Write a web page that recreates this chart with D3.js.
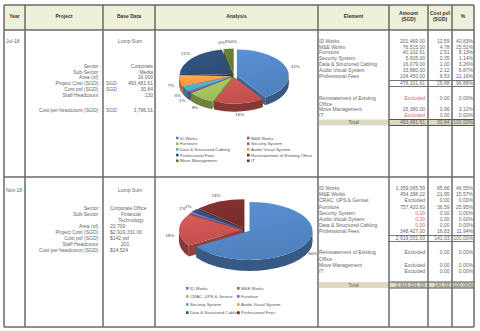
<!DOCTYPE html>
<html>
<head>
<meta charset="utf-8">
<script src="https://cdn.jsdelivr.net/npm/d3@7"></script>
<style>
  html, body { margin: 0; padding: 0; background: #fff; }
  svg { display: block; font-family: "Liberation Sans", Arial, sans-serif; }
</style>
</head>
<body>
<svg id="sheet" width="480" height="331"></svg>
<script>
// ---- column headings ----
const headerTitles = ["Year", "Project", "Base Data", "Analysis", "Element", "Amount\n(SGD)", "Cost psf\n(SGD)", "%"];

// ---- Jul-18 project ----
const julYear = "Jul-18";
const julBasis = "Lump Sum";
const julFieldLabels = ["Sector :", "Sub-Sector :", "Area (sf) :", "Project Cost (SGD) :", "Cost psf (SGD) :", "Staff Headcount :", "Cost per headcount (SGD) :"];
const julFieldUnits = ["", "", "", "SGD", "SGD", "", "SGD"];
const julFieldValues = ["Corporate", "Media", "16,000", "493,481.61", "30.84", "130", "3,796.01"];
const julElements = ["ID Works", "M&E Works", "Furniture", "Security System", "Data & Structured Cabling", "Audio Visual System", "Professional Fees"];
const julAmounts = ["201,469.00", "76,515.00", "40,102.61", "5,605.00", "16,079.00", "33,880.00", "104,450.00"];
const julPsf = ["12.59", "4.78", "2.51", "0.35", "1.00", "2.12", "6.53"];
const julPct = [40.83, 15.51, 8.13, 1.14, 3.26, 6.87, 21.16];
const julSubtotal = ["478,101.61", "29.88", "96.88%"];
const julExtraElements = ["Reinstatement of Existing Office", "Move Management", "IT"];
const julExtraAmounts = ["Excluded", "15,380.00", "Excluded"];
const julExtraPsf = ["0.00", "0.96", "0.00"];
const julExtraPct = [0, 3.12, 0];
const julTotal = ["493,481.61", "30.84", "100.00%"];
const julPieNames = julElements.concat(julExtraElements);
const julPieValues = julPct.concat(julExtraPct);

// ---- Nov-18 project ----
const novYear = "Nov-18";
const novBasis = "Lump Sum";
const novFieldLabels = ["Sector :", "Sub-Sector :", "", "Area (sf) :", "Project Cost (SGD) :", "Cost psf (SGD) :", "Staff Headcount :", "Cost per headcount (SGD) :"];
const novFieldUnits = ["", "", "", "", "", "", "", ""];
const novFieldValues = ["Corporate Office", "Financial", "Technology", "20,700", "$2,919,331.00", "$142 psf", "201", "$14,524"];
const novElements = ["ID Works", "M&E Works", "CRAC, UPS & Genset", "Furniture", "Security System", "Audio Visual System", "Data & Structured Cabling", "Professional Fees"];
const novAmounts = ["1,359,065.59", "454,398.22", "Excluded", "757,420.60", "0.00", "0.00", "0.00", "348,427.00"];
const novPsf = ["65.66", "21.95", "0.00", "36.59", "0.00", "0.00", "0.00", "16.83"];
const novPct = [46.55, 15.57, 0, 25.95, 0, 0, 0, 11.94];
const novSubtotal = ["2,919,331.00", "141.03", "100.00%"];
const novExtraElements = ["Reinstatement of Existing Office", "Move Management", "IT"];
const novExtraAmounts = ["Excluded", "Excluded", "Excluded"];
const novExtraPsf = ["0.00", "0.00", "0.00"];
const novExtraPct = [0, 0, 0];
const novTotal = ["2,919,331.00", "141.03", "100.00%"];
const novPieNames = novElements;
const novPieShare = [66, 18, null, 1, null, null, 2, 13];   // null = no slice

// Office-style series palette
const palette = ["#4F81BD", "#C0504D", "#9BBB59", "#8064A2", "#4BACC6", "#F79646", "#2C4D75", "#772C2A", "#5F7530", "#4D3B62"];

// ---- sheet grid ----
const colX = [4, 25, 103, 155, 318, 389, 428, 452, 474];
const rowY = [5, 30, 177, 327];
const ink = "#666";
const fs = 5;

const svg = d3.select("#sheet");
const defs = svg.append("defs");

svg.append("rect").attr("x", colX[0]).attr("y", rowY[0])
  .attr("width", colX[8] - colX[0]).attr("height", rowY[1] - rowY[0]).attr("fill", "#eef0da");

function multiText(g, x, y, str, anchor, opts = {}) {
  const lines = String(str).split("\n");
  const lh = opts.lh || 6.2;
  const y0 = y - (lines.length - 1) * lh / 2;
  const t = g.append("text").attr("x", x).attr("text-anchor", anchor)
    .attr("font-size", opts.size || fs).attr("fill", opts.fill || ink)
    .attr("font-weight", opts.weight || null);
  lines.forEach((l, i) => t.append("tspan").attr("x", x).attr("y", y0 + i * lh).attr("dy", "0.35em").text(l));
  return t;
}

// headings
const hg = svg.append("g");
headerTitles.forEach((h, i) => {
  multiText(hg, (colX[i] + colX[i + 1]) / 2, 16, h, "middle", { weight: "bold", fill: "#333", lh: 6.5 });
});

// wrap long element names onto two lines
function wrap(name, max) {
  if (name.length <= max) return [name];
  const cut = name.lastIndexOf(" ", max);
  return [name.slice(0, cut), name.slice(cut + 1)];
}

// ---- 3D pie ----
function pie3D(g, names, values, P) {
  const { cx, cy, rx, ry, depth, gap, lpad } = P;
  const arcs = d3.pie().sort(null).value(d => d || 0)(values).map((a, i) => {
    const mid = (a.startAngle + a.endAngle) / 2;
    return Object.assign(a, {
      i, name: names[i], color: palette[i], mid,
      ox: gap * Math.sin(mid), oy: -gap * Math.cos(mid) * ry / rx
    });
  });
  const pt = a => [rx * Math.sin(a), -ry * Math.cos(a)];
  const live = arcs.filter(a => a.endAngle - a.startAngle > 1e-6);
  const order = live.slice().sort((a, b) => -Math.cos(a.mid) + Math.cos(b.mid));

  const wall = ang => {
    const [x, y] = pt(ang);
    return `M0,0L${x},${y}L${x},${y + depth}L0,${depth}Z`;
  };
  const rim = (s, e) => {
    const [x0, y0] = pt(s), [x1, y1] = pt(e);
    const lg = e - s > Math.PI ? 1 : 0;
    return `M${x0},${y0}A${rx},${ry} 0 ${lg} 1 ${x1},${y1}L${x1},${y1 + depth}A${rx},${ry} 0 ${lg} 0 ${x0},${y0 + depth}Z`;
  };
  const face = (s, e) => {
    const [x0, y0] = pt(s), [x1, y1] = pt(e);
    const lg = e - s > Math.PI ? 1 : 0;
    return `M0,0L${x0},${y0}A${rx},${ry} 0 ${lg} 1 ${x1},${y1}Z`;
  };

  order.forEach(a => {
    const sg = g.append("g").attr("transform", `translate(${cx + a.ox},${cy + a.oy})`);
    const side = d3.color(a.color).darker(1.0).formatHex();
    sg.append("path").attr("d", wall(a.startAngle)).attr("fill", d3.color(a.color).darker(0.7).formatHex());
    sg.append("path").attr("d", wall(a.endAngle)).attr("fill", d3.color(a.color).darker(0.7).formatHex());
    const s = Math.max(a.startAngle, Math.PI / 2), e = Math.min(a.endAngle, 3 * Math.PI / 2);
    if (e > s) sg.append("path").attr("d", rim(s, e)).attr("fill", side);
  });
  order.forEach(a => {
    const gid = `g${P.id}_${a.i}`;
    const lg = defs.append("linearGradient").attr("id", gid).attr("x1", 0).attr("y1", 0).attr("x2", 0.3).attr("y2", 1);
    lg.append("stop").attr("offset", "0%").attr("stop-color", d3.color(a.color).brighter(0.35).formatHex());
    lg.append("stop").attr("offset", "100%").attr("stop-color", a.color);
    g.append("path").attr("transform", `translate(${cx + a.ox},${cy + a.oy})`)
      .attr("d", face(a.startAngle, a.endAngle)).attr("fill", `url(#${gid})`);
  });

  // data labels, nudged apart where they would collide
  const lsize = 4.4;
  const labs = arcs.filter(a => a.data !== null).map(a => {
    const c = Math.cos(a.mid);
    const text = Math.round(a.data) + "%";
    return {
      text,
      x: cx + a.ox + (rx + lpad) * Math.sin(a.mid),
      y: cy + a.oy - (ry + lpad * 0.75) * c + (c < 0 ? depth * 0.5 : 0),
      w: text.length * lsize * 0.56 + 0.8, h: lsize + 0.6
    };
  });
  for (let it = 0; it < 40; it++) {
    for (let i = 0; i < labs.length; i++) for (let j = i + 1; j < labs.length; j++) {
      const A = labs[i], B = labs[j];
      const dx = B.x - A.x, dy = B.y - A.y;
      const ox = (A.w + B.w) / 2 - Math.abs(dx), oy = (A.h + B.h) / 2 - Math.abs(dy);
      if (ox > 0 && oy > 0) {
        if (ox < oy) { const s = (dx >= 0 ? 1 : -1) * ox / 2; A.x -= s; B.x += s; }
        else { const s = (dy >= 0 ? 1 : -1) * oy / 2; A.y -= s; B.y += s; }
      }
    }
  }
  labs.forEach(l => g.append("text").attr("x", l.x).attr("y", l.y).attr("dy", "0.35em").attr("text-anchor", "middle")
    .attr("font-size", lsize).attr("fill", "#404040").text(l.text));
}

function legend(g, names, L) {
  names.forEach((n, i) => {
    const x = L.cols[i % 2], y = L.y0 + Math.floor(i / 2) * L.step;
    g.append("rect").attr("x", x).attr("y", y - 1.3).attr("width", 2.6).attr("height", 2.6).attr("fill", palette[i]);
    g.append("text").attr("x", x + 4).attr("y", y).attr("dy", "0.35em")
      .attr("font-size", 4.3).attr("fill", "#505050").text(n);
  });
}

function drawBlock(d, L) {
  const g = svg.append("g");
  g.append("text").attr("x", 6).attr("y", L.yearY).attr("dy", "0.35em").attr("font-size", fs).attr("fill", ink).text(d.year);
  g.append("text").attr("x", 130).attr("y", L.yearY).attr("dy", "0.35em").attr("text-anchor", "middle")
    .attr("font-size", fs).attr("fill", ink).text(d.basis);

  d.labels.forEach((lab, i) => {
    const y = L.fieldY[i];
    if (lab) g.append("text").attr("x", 101).attr("y", y).attr("dy", "0.35em").attr("text-anchor", "end")
      .attr("font-size", fs).attr("fill", ink).text(lab);
    if (d.units[i]) g.append("text").attr("x", 106).attr("y", y).attr("dy", "0.35em")
      .attr("font-size", fs).attr("fill", ink).text(d.units[i]);
    const al = L.valueAlign[i];
    g.append("text").attr("x", al[0]).attr("y", y).attr("dy", "0.35em").attr("text-anchor", al[1])
      .attr("font-size", fs).attr("fill", ink).text(d.values[i]);
  });

  // element table
  const cell = (y, amt, psf, pct, red) => {
    g.append("text").attr("x", 425).attr("y", y).attr("dy", "0.35em").attr("text-anchor", "end")
      .attr("font-size", fs).attr("fill", red ? "#e0605e" : ink).text(amt);
    g.append("text").attr("x", 449.5).attr("y", y).attr("dy", "0.35em").attr("text-anchor", "end")
      .attr("font-size", fs).attr("fill", ink).text(psf);
    g.append("text").attr("x", 473).attr("y", y).attr("dy", "0.35em").attr("text-anchor", "end")
      .attr("font-size", fs).attr("fill", ink).text(pct);
  };
  d.elements.forEach((n, i) => {
    const y = L.elemY0 + i * L.elemStep;
    g.append("text").attr("x", 319).attr("y", y).attr("dy", "0.35em").attr("font-size", fs).attr("fill", ink).text(n);
    cell(y, d.amounts[i], d.psf[i], d.pct[i].toFixed(2) + "%", L.red(d.amounts[i]));
  });
  // subtotal box
  [L.subY - 3, L.subY + 3].forEach(y => g.append("line").attr("x1", colX[5]).attr("x2", colX[8])
    .attr("y1", y).attr("y2", y).attr("stroke", "#666").attr("stroke-width", 0.9));
  cell(L.subY, d.subtotal[0], d.subtotal[1], d.subtotal[2], false);

  let y = L.extraY0;
  d.extraElements.forEach((n, i) => {
    const lines = wrap(n, 26);
    lines.forEach((l, k) => g.append("text").attr("x", 319).attr("y", y + k * L.elemStep).attr("dy", "0.35em")
      .attr("font-size", fs).attr("fill", ink).text(l));
    cell(y, d.extraAmounts[i], d.extraPsf[i], d.extraPct[i].toFixed(2) + "%", L.red(d.extraAmounts[i]));
    y += lines.length * L.elemStep;
  });

  // total row
  g.append("rect").attr("x", colX[4] + 1).attr("y", L.totalY - 3).attr("width", colX[8] - colX[4] - 1).attr("height", 6)
    .attr("fill", "#ddd9c3");
  [L.totalY - 3, L.totalY + 3].forEach(yy => g.append("line").attr("x1", colX[5]).attr("x2", colX[8])
    .attr("y1", yy).attr("y2", yy).attr("stroke", "#555").attr("stroke-width", 1.1));
  g.append("text").attr("x", (colX[4] + colX[5]) / 2).attr("y", L.totalY).attr("dy", "0.35em").attr("text-anchor", "middle")
    .attr("font-size", fs).attr("fill", ink).text("Total");
  cell(L.totalY, d.total[0], d.total[1], d.total[2], false);

  // analysis chart
  const clipId = "clip" + L.pie.id;
  defs.append("clipPath").attr("id", clipId).append("rect")
    .attr("x", colX[3] + 1).attr("y", L.top + 1).attr("width", colX[4] - colX[3] - 2).attr("height", L.bottom - L.top - 2);
  const pg = svg.append("g").attr("clip-path", `url(#${clipId})`);
  pie3D(pg, d.pieNames, d.pieValues, L.pie);
  legend(pg, d.pieNames, L.legend);
}

drawBlock({
  year: julYear, basis: julBasis, labels: julFieldLabels, units: julFieldUnits, values: julFieldValues,
  elements: julElements, amounts: julAmounts, psf: julPsf, pct: julPct, subtotal: julSubtotal,
  extraElements: julExtraElements, extraAmounts: julExtraAmounts, extraPsf: julExtraPsf, extraPct: julExtraPct,
  total: julTotal, pieNames: julPieNames, pieValues: julPieValues
}, {
  top: rowY[1], bottom: rowY[2], yearY: 41,
  fieldY: [66, 71.8, 77.6, 83.4, 89.2, 95, 109.8],
  valueAlign: Array(7).fill([153, "end"]),
  elemY0: 41, elemStep: 5.8, subY: 83.5, extraY0: 98, totalY: 122.5,
  red: v => v === "Excluded",
  pie: { id: 1, cx: 234, cy: 76, rx: 52, ry: 26, depth: 8, gap: 3, lpad: 9 },
  legend: { cols: [176, 247], y0: 138, step: 5.7 }
});

drawBlock({
  year: novYear, basis: novBasis, labels: novFieldLabels, units: novFieldUnits, values: novFieldValues,
  elements: novElements, amounts: novAmounts, psf: novPsf, pct: novPct, subtotal: novSubtotal,
  extraElements: novExtraElements, extraAmounts: novExtraAmounts, extraPsf: novExtraPsf, extraPct: novExtraPct,
  total: novTotal, pieNames: novPieNames, pieValues: novPieShare
}, {
  top: rowY[2], bottom: rowY[3], yearY: 190,
  fieldY: [208.5, 214.4, 220.3, 226.5, 232.4, 238.3, 244.2, 250.1],
  valueAlign: [[110, "start"], [131, "middle"], [131, "middle"], [110, "start"], [110, "start"], [110, "start"], [121, "start"], [110, "start"]],
  elemY0: 188.3, elemStep: 6.15, subY: 238.5, extraY0: 252.7, totalY: 285,
  red: v => v === "0.00",
  pie: { id: 2, cx: 246, cy: 230, rx: 63, ry: 29, depth: 11, gap: 4, lpad: 9 },
  legend: { cols: [186, 237], y0: 288.3, step: 8.1 }
});

// grid lines on top
const grid = svg.append("g").attr("stroke", "#6a6a6a").attr("stroke-width", 1.5);
rowY.forEach(y => grid.append("line").attr("x1", colX[0]).attr("x2", colX[8]).attr("y1", y).attr("y2", y));
colX.forEach(x => grid.append("line").attr("x1", x).attr("x2", x).attr("y1", rowY[0]).attr("y2", rowY[3]));
</script>
</body>
</html>
